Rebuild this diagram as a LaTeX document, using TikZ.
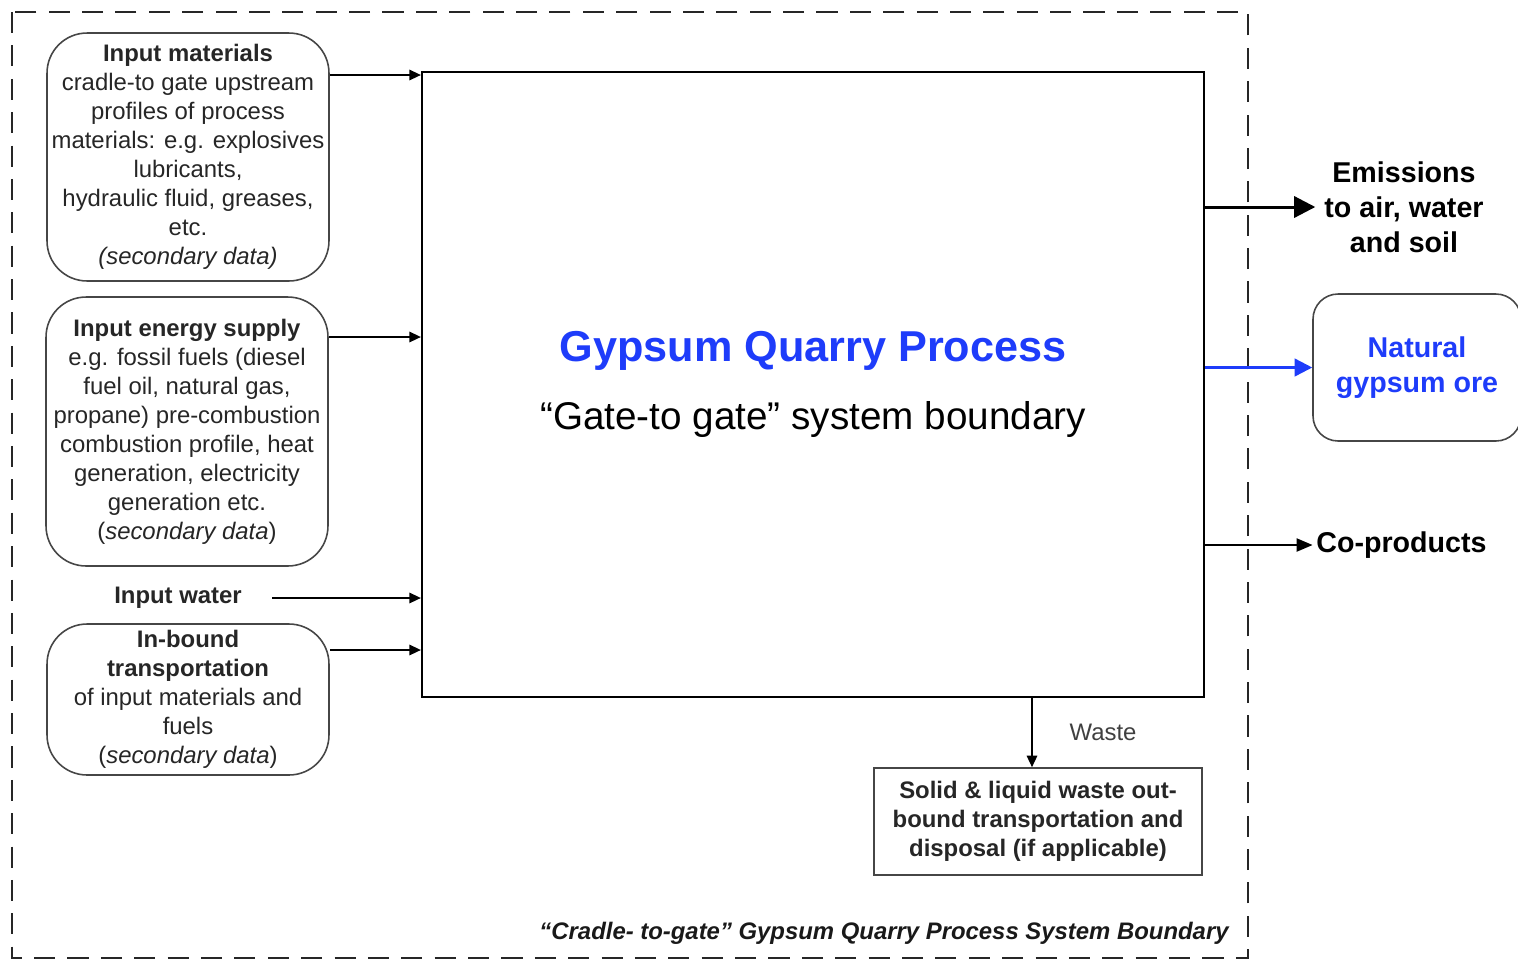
\documentclass[tikz,border=0pt]{standalone}
\usepackage{fontspec}
\setmainfont{Liberation Sans}
\usetikzlibrary{arrows.meta,positioning}
\definecolor{oreblue}{RGB}{30,60,250}
\definecolor{boxgray}{RGB}{70,70,70}
\begin{document}
\begin{tikzpicture}[x=0.02cm,y=-0.02cm]
        \tikzset{
          inbox/.style={draw=boxgray,line width=0.9pt,rounded corners=0.8cm,align=center,
            minimum width=5.64cm,inner sep=0pt,text=black!85,
            font=\fontsize{13.6}{16.5}\selectfont},
          flow/.style={-{Triangle[length=6.5pt,width=6pt]},line width=0.7pt},
          outlabel/.style={align=center,inner sep=1pt,
            font=\bfseries\fontsize{16.3}{19.8}\selectfont}
        }
        \useasboundingbox (0,0) rectangle (1518,961);
        \clip (0,0) rectangle (1518,961);

        %SYSTEM BOUNDARY
        \draw[black!85,line width=1.6pt,dash pattern=on 12pt off 7pt] (12,12) rectangle (1248,958);
        \node[anchor=east,inner sep=0pt,text=black!90,font=\bfseries\itshape\fontsize{13.6}{16}\selectfont]
          (caption) at (1229,933) {“Cradle- to-gate” Gypsum Quarry Process System Boundary};

        %PROCESS
        \node[draw,line width=1.4pt,minimum width=15.64cm,minimum height=12.5cm] (process) at (813,384.5) {};
        \node[text=oreblue,font=\bfseries\fontsize{24.6}{28}\selectfont] (ptitle) at (813,351) {Gypsum Quarry Process};
        \node[font=\fontsize{22}{26}\selectfont] (psub) at (813,419) {“Gate-to gate” system boundary};

        %INPUTS
        \node[inbox,minimum height=4.96cm] (matbox) at (188,157) {\textbf{Input materials}\\cradle-to gate upstream\\profiles of process\\materials: e.g. explosives\\lubricants,\\hydraulic fluid, greases,\\etc.\\\textit{(secondary data)}};
        \node[inbox,minimum height=5.38cm] (energybox) at (187,431.5) {\textbf{Input energy supply}\\e.g. fossil fuels (diesel\\fuel oil, natural gas,\\propane) pre-combustion\\combustion profile, heat\\generation, electricity\\generation etc.\\(\textit{secondary data})};
        \node[inner sep=0pt,text=black!85,font=\bfseries\fontsize{13.6}{16.5}\selectfont] (water) at (178,598) {Input water};
        \node[inbox,minimum height=3.02cm] (transbox) at (188,699.5) {\textbf{In-bound}\\\textbf{transportation}\\of input materials and\\fuels\\(\textit{secondary data})};

        \draw[flow] (matbox.east |- 0,75) -- (process.west |- 0,75);
        \draw[flow] (energybox.east |- 0,337) -- (process.west |- 0,337);
        \draw[flow] ([xshift=0.6cm]water.east) -- (process.west |- water.east);
        \draw[flow] (transbox.east |- 0,650) -- (process.west |- 0,650);

        %OUTPUTS
        \node[outlabel,inner xsep=5pt] (emis) at (1404,207) {Emissions\\to air, water\\and soil};
        \node[draw=boxgray,line width=0.9pt,rounded corners=0.5cm,minimum width=4.16cm,minimum height=2.94cm,
          outlabel,text=oreblue] (gypsum) at (1417,367.5) {Natural\\gypsum ore};
        \node[outlabel,anchor=west,inner sep=0pt,inner xsep=2pt] (coprod) at (1312.5,545) {Co-products};

        \draw[-{Triangle[length=12pt,width=12pt]},line width=1.7pt] (process.east |- emis.west) -- (emis.west);
        \draw[oreblue,-{Triangle[length=10pt,width=10pt]},line width=1.4pt] (process.east |- gypsum.west) -- (gypsum.west);
        \draw[-{Triangle[length=9pt,width=7.5pt]},line width=0.8pt] (process.east |- coprod.west) -- (coprod.west);

        %WASTE
        \node[draw=boxgray,line width=1pt,minimum width=6.56cm,minimum height=2.14cm,align=center,text=black!85,
          font=\bfseries\fontsize{13.6}{16.5}\selectfont] (wastebox) at (1038,821.5)
          {Solid \& liquid waste out-\\bound transportation and\\disposal (if applicable)};
        \coordinate (wastein) at ([xshift=-0.12cm]wastebox.north);
        \draw[flow] (wastein |- process.south) -- (wastein)
          node[midway,right=0.74cm,inner sep=0pt,text=black!75,font=\fontsize{13.6}{16.5}\selectfont] (wastelbl) {Waste};
    \end{tikzpicture}
\end{document}
